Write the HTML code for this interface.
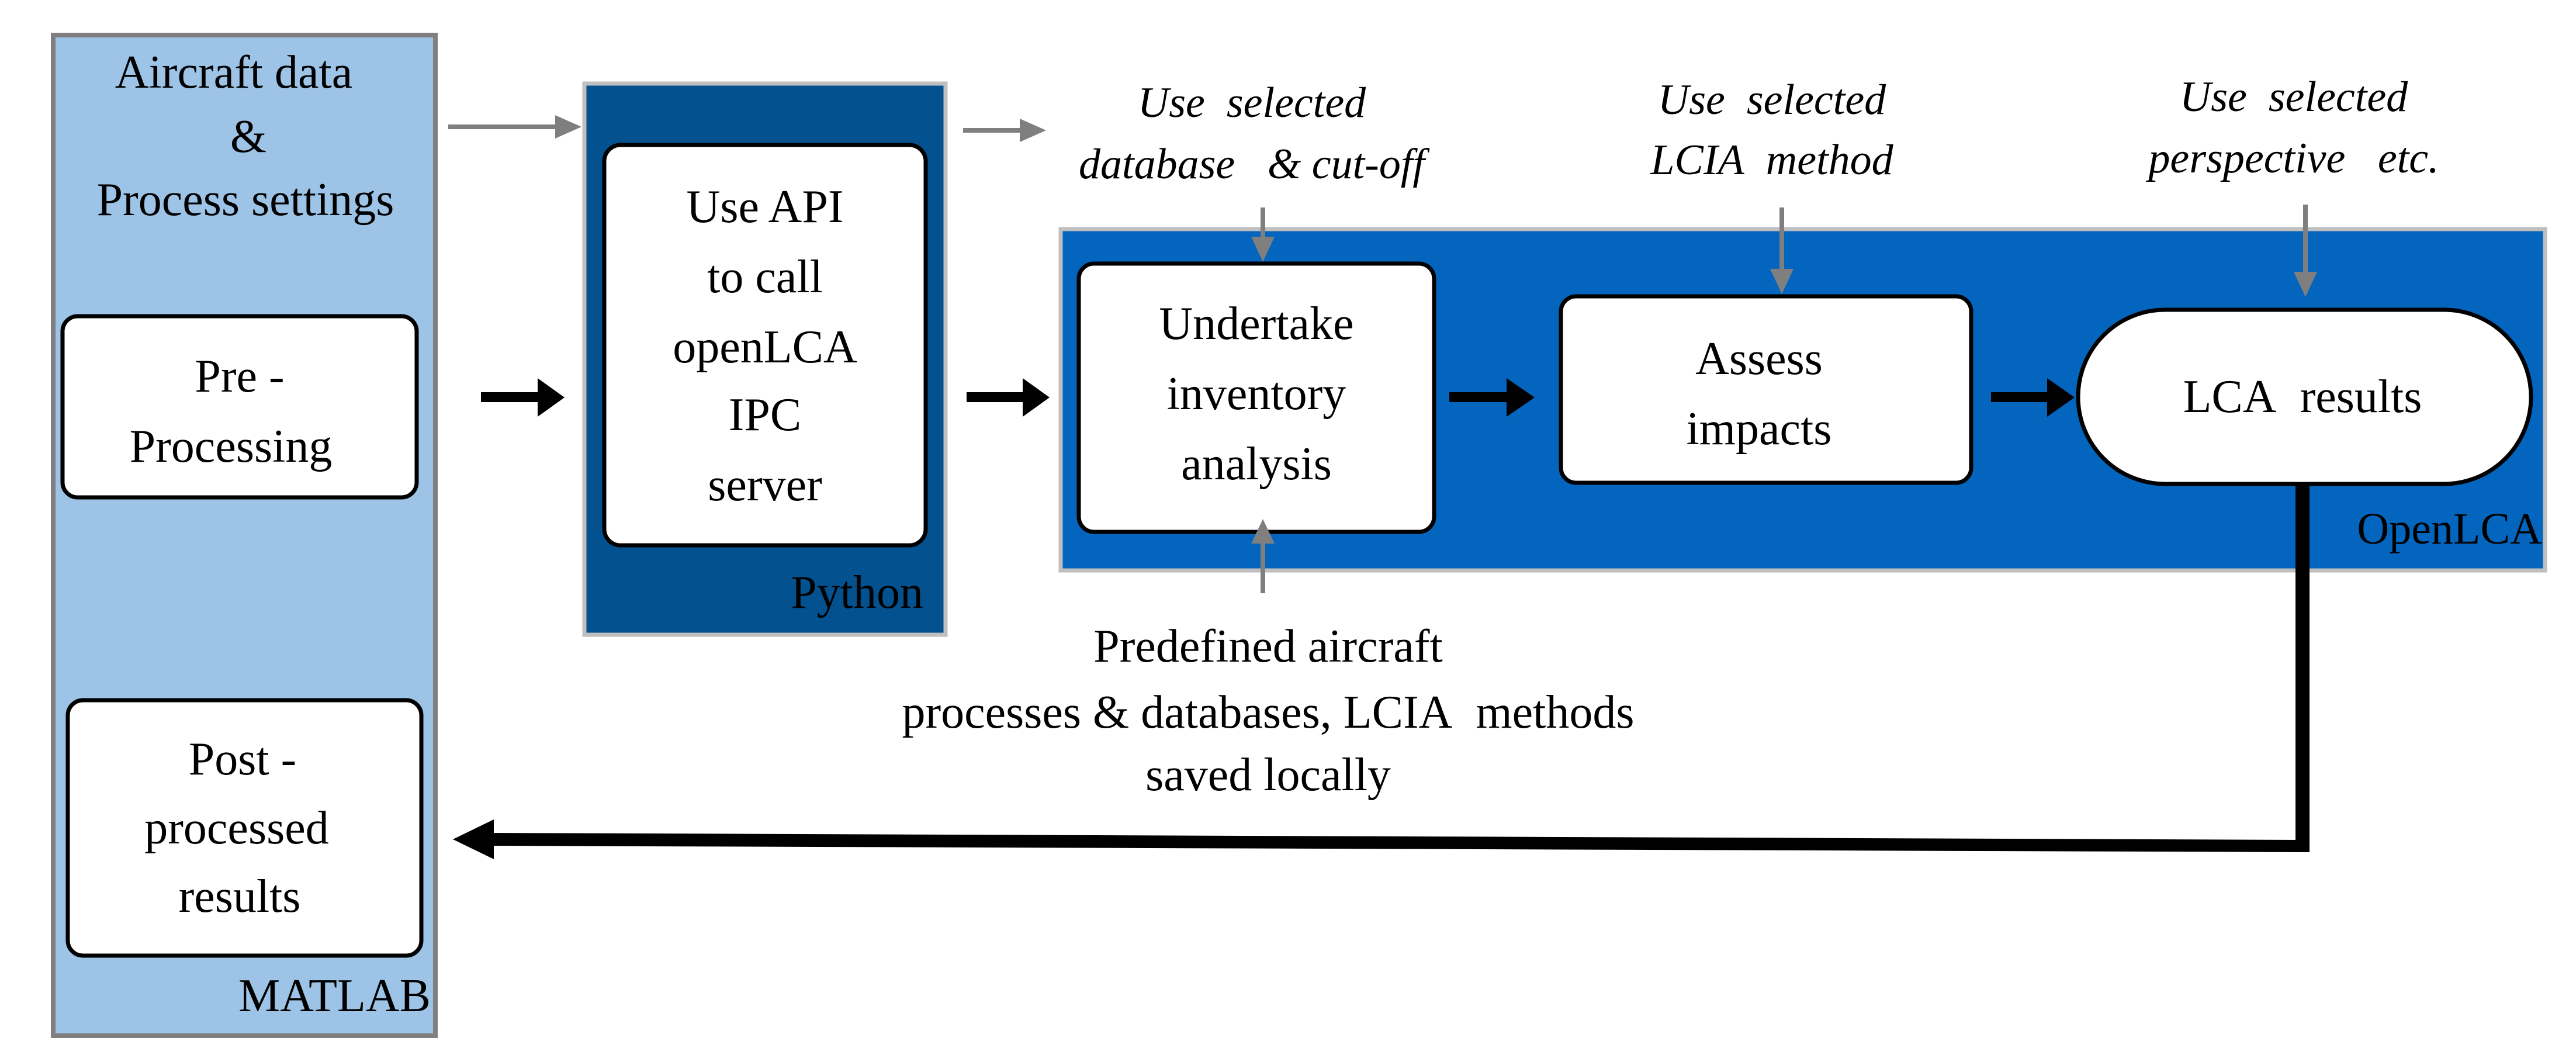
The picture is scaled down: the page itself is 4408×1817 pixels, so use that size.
<!DOCTYPE html>
<html><head><meta charset="utf-8"><style>
html,body{margin:0;padding:0;background:#fff;}
svg{display:block;}
text{font-family:"Liberation Serif",serif;fill:#000;}
.t{font-size:80px;text-anchor:middle;}
.i{font-size:74px;font-style:italic;text-anchor:middle;}
</style></head><body>
<svg width="4408" height="1817" viewBox="0 0 4408 1817" xmlns="http://www.w3.org/2000/svg">
<!-- MATLAB -->
<rect x="91" y="60" width="654" height="1712" fill="#9DC3E6" stroke="#7f7f7f" stroke-width="8"/>
<text class="t" x="400" y="150">Aircraft data</text>
<text class="t" x="425" y="260">&amp;</text>
<text class="t" x="420" y="368">Process settings</text>
<rect x="107" y="541" width="606" height="310" rx="26" fill="#fff" stroke="#000" stroke-width="7"/>
<text class="t" x="410" y="670">Pre -</text>
<text class="t" x="395" y="790">Processing</text>
<rect x="116" y="1198" width="605" height="437" rx="26" fill="#fff" stroke="#000" stroke-width="7"/>
<text class="t" x="415" y="1325">Post -</text>
<text class="t" x="405" y="1443">processed</text>
<text class="t" x="410" y="1560">results</text>
<text x="737" y="1730" style="font-size:80px;text-anchor:end">MATLAB</text>
<!-- Python -->
<rect x="1000" y="143" width="618" height="943" fill="#03518F" stroke="#bfbfbf" stroke-width="7"/>
<rect x="1034" y="248" width="550" height="685" rx="28" fill="#fff" stroke="#000" stroke-width="7"/>
<text class="t" x="1309" y="380">Use API</text>
<text class="t" x="1309" y="500">to call</text>
<text class="t" x="1309" y="620">openLCA</text>
<text class="t" x="1309" y="736">IPC</text>
<text class="t" x="1309" y="856">server</text>
<text x="1580" y="1040" style="font-size:80px;text-anchor:end">Python</text>
<!-- OpenLCA -->
<rect x="1815" y="392" width="2540" height="584" fill="#0365BD" stroke="#bfbfbf" stroke-width="7"/>
<rect x="1846" y="451" width="608" height="459" rx="26" fill="#fff" stroke="#000" stroke-width="7"/>
<text class="t" x="2150" y="580">Undertake</text>
<text class="t" x="2150" y="700">inventory</text>
<text class="t" x="2150" y="820">analysis</text>
<rect x="2671" y="507" width="702" height="319" rx="26" fill="#fff" stroke="#000" stroke-width="7"/>
<text class="t" x="3010" y="640">Assess</text>
<text class="t" x="3010" y="760">impacts</text>
<rect x="3556" y="530" width="775" height="298" rx="149" fill="#fff" stroke="#000" stroke-width="7"/>
<text class="t" x="3940" y="705">LCA&#160;&#160;results</text>
<text x="4350" y="930" style="font-size:76px;text-anchor:end">OpenLCA</text>
<!-- gray arrows -->
<g stroke="#7f7f7f" stroke-width="8" fill="#7f7f7f">
<line x1="767" y1="217" x2="955" y2="217"/><polygon points="950,197 995,217 950,237" stroke="none"/>
<line x1="1648" y1="223" x2="1750" y2="223"/><polygon points="1745,203 1790,223 1745,243" stroke="none"/>
<line x1="2161" y1="355" x2="2161" y2="410"/><polygon points="2141,405 2161,448 2181,405" stroke="none"/>
<line x1="2161" y1="1015" x2="2161" y2="925"/><polygon points="2141,930 2161,888 2181,930" stroke="none"/>
<line x1="3049" y1="355" x2="3049" y2="465"/><polygon points="3029,460 3049,503 3069,460" stroke="none"/>
<line x1="3945" y1="350" x2="3945" y2="470"/><polygon points="3925,465 3945,508 3965,465" stroke="none"/>
</g>
<!-- black arrows -->
<g fill="#000">
<rect x="823" y="671" width="100" height="17"/><polygon points="920,647 966,680 920,713"/>
<rect x="1654" y="671" width="100" height="17"/><polygon points="1750,647 1796,680 1750,713"/>
<rect x="2480" y="671" width="100" height="17"/><polygon points="2578,647 2626,680 2578,713"/>
<rect x="3407" y="671" width="100" height="17"/><polygon points="3503,647 3550,680 3503,713"/>
<rect x="3928" y="828" width="24" height="630"/>
<polygon points="840,1425 3952,1437 3952,1458 840,1447"/>
<polygon points="775,1436 845,1402 845,1470"/>
</g>
<!-- italic labels -->
<text class="i" x="2142" y="200">Use&#160; selected</text>
<text class="i" x="2142" y="305">database&#160;&#160; &amp; cut-off</text>
<text class="i" x="3032" y="195">Use&#160; selected</text>
<text class="i" x="3032" y="298">LCIA&#160; method</text>
<text class="i" x="3925" y="190">Use&#160; selected</text>
<text class="i" x="3925" y="295">perspective&#160;&#160; etc.</text>
<!-- predefined -->
<text class="t" x="2170" y="1132">Predefined aircraft</text>
<text class="t" x="2170" y="1245">processes &amp; databases, LCIA&#160; methods</text>
<text class="t" x="2170" y="1352">saved locally</text>
</svg>
</body></html>
